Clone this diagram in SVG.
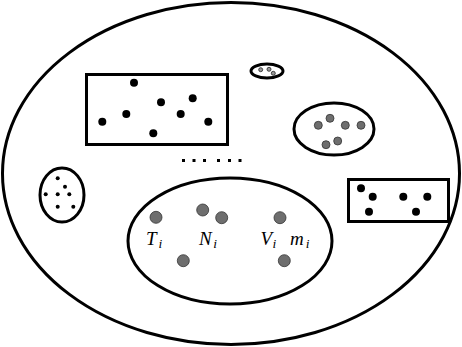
<svg xmlns="http://www.w3.org/2000/svg" width="462" height="347" viewBox="0 0 462 347">
<style>
.b{fill:none;stroke:#000;stroke-width:3}
.k{fill:#000}
.g{fill:#6e6e6e;stroke:#333;stroke-width:0.8}
.s{fill:#999;stroke:#222;stroke-width:0.8}
.t{font-family:"Liberation Serif",serif;font-style:italic;font-size:19px;fill:#000}
.i{font-size:13.5px}
</style>
<rect width="462" height="347" fill="#fff"/>
<g id="outer"><ellipse class="b" cx="231" cy="173.5" rx="228.5" ry="171"/></g>
<g id="smallTop">
<ellipse class="b" cx="267" cy="71" rx="16" ry="7"/>
<circle class="s" cx="260.7" cy="69.7" r="2"/><circle class="s" cx="269" cy="69.3" r="2"/><circle class="s" cx="273.3" cy="73.3" r="2"/>
</g>
<g id="rectTop">
<rect class="b" x="86.5" y="74.5" width="141" height="70"/>
<circle class="k" cx="134" cy="82.7" r="4"/><circle class="k" cx="161" cy="102.3" r="4"/><circle class="k" cx="192.7" cy="98.3" r="4"/><circle class="k" cx="126.3" cy="114" r="4"/><circle class="k" cx="180.7" cy="114" r="4"/><circle class="k" cx="102.3" cy="121.7" r="4"/><circle class="k" cx="208.3" cy="121.7" r="4"/><circle class="k" cx="153.3" cy="133.3" r="4"/>
</g>
<g id="ellRight">
<ellipse class="b" cx="334" cy="129" rx="40" ry="26"/>
<circle class="g" cx="330" cy="118.3" r="4"/><circle class="g" cx="318.3" cy="125.3" r="4"/><circle class="g" cx="345.3" cy="125.3" r="4"/><circle class="g" cx="361" cy="125.3" r="4"/><circle class="g" cx="337.7" cy="141" r="4"/><circle class="g" cx="326" cy="144.7" r="4"/>
</g>
<g id="ellLeft">
<ellipse class="b" cx="62" cy="195" rx="22" ry="27"/>
<circle class="k" cx="57.7" cy="178.3" r="2"/><circle class="k" cx="65" cy="186.7" r="2"/><circle class="k" cx="45.7" cy="194.3" r="2"/><circle class="k" cx="57.7" cy="194.3" r="2"/><circle class="k" cx="69.3" cy="194.3" r="2"/><circle class="k" cx="57.7" cy="206.7" r="2"/><circle class="k" cx="73.3" cy="206.7" r="2"/>
</g>
<g id="rectRight">
<rect class="b" x="348.5" y="179.5" width="100" height="42"/>
<circle class="k" cx="361" cy="188.3" r="4"/><circle class="k" cx="372.7" cy="196.7" r="4"/><circle class="k" cx="403.3" cy="196.7" r="4"/><circle class="k" cx="427.3" cy="196.7" r="4"/><circle class="k" cx="369" cy="211.7" r="4"/><circle class="k" cx="416" cy="211.7" r="4"/>
</g>
<g id="dots">
<rect class="k" x="182" y="159" width="3" height="3"/><rect class="k" x="192.5" y="159" width="3" height="3"/><rect class="k" x="203" y="159" width="3" height="3"/><rect class="k" x="217" y="159" width="3" height="3"/><rect class="k" x="228" y="159" width="3" height="3"/><rect class="k" x="238.5" y="159" width="3" height="3"/>
</g>
<g id="ellBottom">
<ellipse class="b" cx="230" cy="241" rx="102" ry="63"/>
<circle class="g" cx="156" cy="217.3" r="6"/><circle class="g" cx="202.7" cy="210" r="6"/><circle class="g" cx="221.7" cy="217.7" r="6"/><circle class="g" cx="280" cy="217.7" r="6"/><circle class="g" cx="183.3" cy="260.7" r="6"/><circle class="g" cx="284.3" cy="260.7" r="6"/>
<text class="t" x="146" y="245">T<tspan class="i" dx="2" dy="2.5">i</tspan></text>
<text class="t" x="199" y="245">N<tspan class="i" dx="1.5" dy="2.5">i</tspan></text>
<text class="t" x="260.5" y="245">V<tspan class="i" dx="0.5" dy="2.5">i</tspan></text>
<text class="t" x="290" y="245">m<tspan class="i" dx="2" dy="2.5">i</tspan></text>
</g>
<g id="connectors"/>
</svg>
